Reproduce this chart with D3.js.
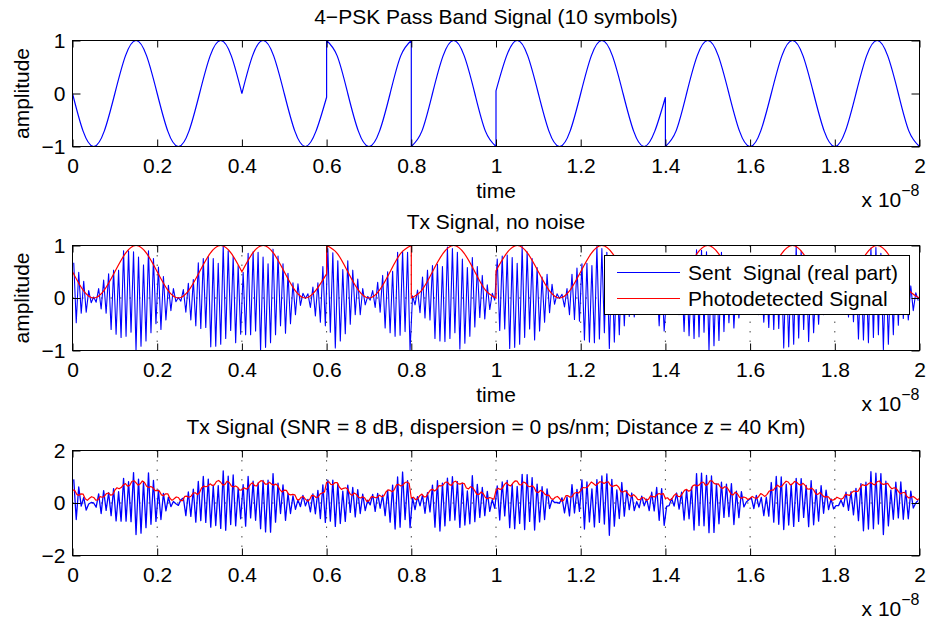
<!DOCTYPE html>
<html><head><meta charset="utf-8">
<script src="https://cdn.jsdelivr.net/npm/d3@7"></script>
<style>
body{margin:0;background:#fff}
svg{display:block}
text{font-family:"Liberation Sans",Arial,Helvetica,sans-serif;fill:#000}
</style>
</head><body>
<svg id="c" width="929" height="628"></svg>
<script>
// ---------------- data ----------------
const timeTicks = [0, 0.2, 0.4, 0.6, 0.8, 1, 1.2, 1.4, 1.6, 1.8, 2];
const timeTickLabels = ["0", "0.2", "0.4", "0.6", "0.8", "1", "1.2", "1.4", "1.6", "1.8", "2"];
const symbolDuration = 0.2;        // x 1e-8 s
const samplesPerSymbol = 8;
const phaseChangeTimes = [0.4, 0.6, 0.8, 1.0, 1.4];

// 4-PSK pass band signal, 9 samples per symbol (panel 1)
const passBandSignal = [
  [0, -0.71, -1, -0.71, 0, 0.71, 1, 0.71, 0],
  [0, -0.71, -1, -0.71, 0, 0.71, 1, 0.71, 0],
  [0, 0.71, 1, 0.71, 0, -0.71, -1, -0.71, -0.07],
  [1, 0.71, 0, -0.71, -1, -0.71, 0, 0.71, 1],
  [-1, -0.71, 0, 0.71, 1, 0.71, 0, -0.71, -1],
  [0.05, 0.71, 1, 0.71, 0, -0.71, -1, -0.71, 0],
  [0, 0.71, 1, 0.71, 0, -0.71, -1, -0.71, -0.07],
  [-1, -0.71, 0, 0.71, 1, 0.71, 0, -0.71, -1],
  [-1, -0.71, 0, 0.71, 1, 0.71, 0, -0.71, -1],
  [-1, -0.71, 0, 0.71, 1, 0.71, 0, -0.71, -1]
];

// photodetected signal (no noise), panel 2
const photodetectedSignal = [
  [0.5, 0.15, 0, 0.15, 0.5, 0.85, 1, 0.85, 0.5],
  [0.5, 0.15, 0, 0.15, 0.5, 0.85, 1, 0.85, 0.5],
  [0.5, 0.85, 1, 0.85, 0.5, 0.15, 0, 0.15, 0.46],
  [1, 0.85, 0.5, 0.15, 0, 0.15, 0.5, 0.85, 1],
  [0, 0.15, 0.5, 0.85, 1, 0.85, 0.5, 0.15, 0],
  [0.52, 0.85, 1, 0.85, 0.5, 0.15, 0, 0.15, 0.5],
  [0.5, 0.85, 1, 0.85, 0.5, 0.15, 0, 0.15, 0.46],
  [0, 0.15, 0.5, 0.85, 1, 0.85, 0.5, 0.15, 0],
  [0, 0.15, 0.5, 0.85, 1, 0.85, 0.5, 0.15, 0],
  [0, 0.15, 0.5, 0.85, 1, 0.85, 0.5, 0.15, 0]
];

// sent signal (real part), carrier extremes, 34 per symbol (panel 2)
const sentSignal = [
  [0.67,-0.47,0.49,-0.29,0.32,-0.27,0.14,-0.09,0.02,-0.08,0.18,-0.21,0.34,-0.29,0.46,-0.60,0.53,-0.69,0.53,-0.75,0.90,-0.73,0.90,-0.65,0.88,-1.0,0.78,-0.92,0.63,-0.82,0.90,-0.66,0.75,-0.49],
  [0.59,-0.60,0.41,-0.42,0.24,-0.24,0.18,-0.07,0.01,-0.06,0.16,-0.27,0.28,-0.42,0.35,-0.53,0.67,-0.58,0.75,-0.56,0.79,-0.93,0.75,-0.92,0.66,-0.88,1.0,-0.77,0.90,-0.62,0.79,-0.85,0.62,-0.69],
  [0.49,-0.70,0.85,-0.70,0.88,-0.63,0.87,-1.0,0.78,-0.94,0.65,-0.85,0.93,-0.70,0.80,-0.53,0.65,-0.67,0.47,-0.49,0.29,-0.32,0.27,-0.14,0.09,-0.01,0.08,-0.18,0.21,-0.34,0.29,-0.46,0.60,-0.53],
  [0.94,-0.65,0.86,-0.95,0.71,-0.82,0.54,-0.68,0.71,-0.50,0.53,-0.32,0.36,-0.32,0.18,-0.13,0.03,-0.04,0.14,-0.18,0.30,-0.27,0.43,-0.57,0.50,-0.66,0.51,-0.73,0.87,-0.71,0.89,-0.64,0.87,-1.0],
  [0.04,-0.13,0.15,-0.28,0.40,-0.38,0.53,-0.42,0.62,-0.77,0.64,-0.82,0.60,-0.83,0.97,-0.77,0.94,-0.66,0.87,-0.97,0.74,-0.86,0.58,-0.73,0.77,-0.55,0.60,-0.37,0.43,-0.40,0.25,-0.22,0.09,-0.04],
  [0.74,-0.62,0.80,-0.59,0.82,-0.96,0.77,-0.94,0.66,-0.88,0.98,-0.75,0.88,-0.59,0.75,-0.80,0.58,-0.63,0.40,-0.46,0.45,-0.28,0.26,-0.12,0.08,-0.01,0.07,-0.17,0.18,-0.32,0.45,-0.41,0.57,-0.44],
  [0.65,-0.80,0.66,-0.84,0.62,-0.85,0.98,-0.78,0.94,-0.66,0.87,-0.96,0.73,-0.84,0.56,-0.70,0.74,-0.53,0.57,-0.35,0.39,-0.36,0.21,-0.17,0.06,-0.01,0.09,-0.14,0.26,-0.24,0.39,-0.53,0.47,-0.63],
  [0.03,-0.12,0.23,-0.25,0.38,-0.32,0.50,-0.64,0.55,-0.72,0.54,-0.77,0.92,-0.74,0.91,-0.65,0.88,-1.0,0.77,-0.91,0.63,-0.81,0.87,-0.64,0.72,-0.47,0.56,-0.57,0.38,-0.38,0.21,-0.20,0.14,-0.04],
  [0.04,-0.09,0.20,-0.32,0.32,-0.46,0.37,-0.56,0.71,-0.60,0.78,-0.58,0.81,-0.95,0.76,-0.93,0.66,-0.88,0.99,-0.76,0.89,-0.60,0.77,-0.83,0.60,-0.66,0.42,-0.50,0.49,-0.32,0.30,-0.15,0.12,-0.05],
  [0.05,-0.12,0.17,-0.27,0.41,-0.36,0.52,-0.45,0.60,-0.78,0.66,-0.80,0.62,-0.85,0.95,-0.75,0.96,-0.70,0.85,-0.98,0.72,-0.88,0.60,-0.70,0.78,-0.52,0.62,-0.39,0.41,-0.42,0.23,-0.24,0.10,-0.05]
];

// received signal with noise (SNR = 8 dB), 34 per symbol (panel 3, blue)
const noisySentSignal = [
  [0.90,-0.63,0.61,-0.12,0.21,-0.27,-0.04,0.02,0.0,-0.16,0.35,-0.40,0.47,-0.28,0.39,-0.48,0.55,-0.68,0.43,-0.69,0.94,-0.69,0.81,-0.71,1.16,-1.20,0.91,-1.15,0.81,-0.94,1.15,-0.81,0.86,-0.70],
  [0.49,-0.63,0.37,-0.30,0.22,-0.14,0.06,-0.03,-0.09,0.12,0.19,-0.48,0.42,-0.51,0.53,-0.73,0.82,-0.67,1.01,-0.74,0.91,-0.92,0.66,-0.86,0.66,-0.97,1.22,-1.04,1.02,-0.82,1.07,-0.87,0.57,-0.60],
  [0.70,-0.88,1.01,-0.57,0.83,-0.66,0.77,-0.98,0.86,-1.10,0.87,-1.11,1.12,-0.73,0.76,-0.40,0.69,-0.66,0.37,-0.40,0.27,-0.24,0.12,-0.14,0.29,-0.11,0.14,-0.34,0.35,-0.41,0.48,-0.59,0.69,-0.74],
  [0.87,-0.69,0.87,-0.89,0.74,-0.78,0.45,-0.70,0.68,-0.36,0.59,-0.53,0.51,-0.40,0.34,-0.29,0.11,-0.07,0.33,-0.32,0.37,-0.20,0.30,-0.48,0.48,-0.73,0.68,-0.99,0.99,-0.92,1.18,-0.63,0.85,-0.94],
  [0.20,-0.25,0.24,-0.11,0.30,-0.39,0.39,-0.34,0.68,-0.92,0.85,-1.07,0.76,-0.87,0.95,-0.67,1.00,-0.65,0.81,-0.93,0.76,-0.84,0.46,-0.79,1.04,-0.71,0.71,-0.55,0.59,-0.48,0.44,-0.32,0.13,-0.20],
  [0.65,-0.65,0.80,-0.49,0.86,-0.94,0.71,-0.98,0.63,-0.78,1.09,-1.01,1.08,-0.70,0.97,-1.03,0.72,-0.72,0.62,-0.63,0.54,-0.21,0.12,0.02,0.02,-0.01,0.20,-0.38,0.23,-0.49,0.70,-0.38,0.52,-0.32],
  [0.88,-0.99,0.80,-0.72,0.54,-0.91,0.89,-0.74,1.03,-0.80,1.11,-1.23,0.90,-0.88,0.50,-0.59,0.78,-0.50,0.48,-0.25,0.38,-0.29,0.05,-0.18,0.26,-0.11,0.15,-0.29,0.41,-0.30,0.59,-0.66,0.55,-0.85],
  [-0.13,-0.10,0.17,-0.12,0.38,-0.23,0.41,-0.65,0.51,-0.60,0.60,-1.03,1.12,-0.86,1.14,-0.87,1.05,-1.13,1.03,-1.12,0.73,-0.79,0.79,-0.55,0.72,-0.52,0.74,-0.82,0.45,-0.56,0.43,-0.15,0.04,0.12],
  [0.20,-0.21,0.29,-0.15,0.21,-0.48,0.22,-0.50,0.78,-0.73,1.01,-0.81,0.99,-1.01,0.72,-0.84,0.70,-0.89,0.94,-0.70,0.93,-0.55,0.67,-0.90,0.85,-0.83,0.51,-0.69,0.66,-0.39,0.49,-0.25,0.16,-0.22],
  [-0.10,-0.10,0.11,-0.14,0.41,-0.28,0.43,-0.45,0.56,-0.67,0.74,-1.06,0.79,-0.99,1.19,-0.98,1.14,-0.80,1.12,-1.20,0.83,-0.87,0.49,-0.62,0.79,-0.57,0.80,-0.62,0.48,-0.60,0.45,-0.19,0.00,0.10]
];

// noisy photodetected signal, 40 samples per symbol + final value (panel 3, red)
const noisyPhotodetected = [
  [0.50,0.48,0.33,0.29,0.35,0.34,0.16,0.10,0.18,0.24,0.21,0.11,0.12,0.24,0.22,0.25,0.36,0.38,0.30,0.32,0.49,0.58,0.54,0.59,0.69,0.74,0.64,0.67,0.82,0.85,0.77,0.68,0.73,0.84,0.78,0.64,0.59,0.63,0.58,0.47],
  [0.48,0.46,0.31,0.28,0.35,0.35,0.18,0.10,0.16,0.23,0.21,0.09,0.09,0.25,0.26,0.22,0.26,0.38,0.39,0.32,0.40,0.58,0.64,0.62,0.65,0.73,0.67,0.69,0.82,0.86,0.79,0.68,0.71,0.83,0.78,0.65,0.61,0.65,0.60,0.49],
  [0.50,0.58,0.53,0.57,0.71,0.77,0.66,0.65,0.78,0.85,0.83,0.72,0.72,0.79,0.72,0.68,0.72,0.66,0.50,0.42,0.49,0.48,0.34,0.31,0.33,0.31,0.14,0.12,0.22,0.24,0.15,0.07,0.13,0.29,0.28,0.21,0.23,0.35,0.38,0.42],
  [0.79,0.81,0.71,0.70,0.78,0.78,0.61,0.52,0.56,0.58,0.52,0.35,0.29,0.38,0.33,0.22,0.19,0.24,0.19,0.06,0.09,0.23,0.24,0.20,0.22,0.30,0.24,0.27,0.42,0.50,0.48,0.43,0.51,0.69,0.71,0.65,0.68,0.78,0.80,0.74],
  [0.19,0.22,0.13,0.16,0.28,0.34,0.23,0.24,0.38,0.49,0.52,0.46,0.52,0.66,0.65,0.68,0.79,0.80,0.70,0.67,0.80,0.83,0.74,0.72,0.76,0.74,0.57,0.54,0.62,0.59,0.46,0.33,0.33,0.42,0.35,0.21,0.16,0.21,0.18,0.14],
  [0.48,0.56,0.51,0.56,0.71,0.78,0.68,0.65,0.76,0.84,0.83,0.70,0.69,0.80,0.76,0.65,0.62,0.66,0.59,0.42,0.40,0.48,0.44,0.34,0.29,0.30,0.17,0.14,0.22,0.25,0.17,0.07,0.11,0.28,0.28,0.22,0.25,0.37,0.40,0.38],
  [0.47,0.59,0.58,0.59,0.69,0.80,0.74,0.67,0.73,0.81,0.80,0.74,0.79,0.81,0.68,0.63,0.66,0.68,0.60,0.43,0.42,0.47,0.39,0.29,0.25,0.32,0.24,0.13,0.13,0.21,0.19,0.10,0.14,0.27,0.24,0.23,0.31,0.36,0.33,0.36],
  [0.17,0.20,0.11,0.15,0.28,0.35,0.25,0.24,0.36,0.48,0.52,0.45,0.49,0.66,0.69,0.65,0.69,0.79,0.79,0.67,0.71,0.84,0.84,0.75,0.72,0.73,0.60,0.55,0.62,0.60,0.48,0.33,0.31,0.41,0.35,0.22,0.18,0.23,0.20,0.13],
  [0.18,0.25,0.20,0.17,0.24,0.36,0.31,0.25,0.33,0.45,0.49,0.49,0.60,0.68,0.61,0.64,0.75,0.83,0.80,0.69,0.73,0.82,0.79,0.71,0.68,0.75,0.67,0.54,0.53,0.57,0.50,0.35,0.33,0.40,0.31,0.23,0.24,0.23,0.13,0.11],
  [0.14,0.22,0.18,0.14,0.19,0.33,0.31,0.29,0.40,0.46,0.43,0.45,0.59,0.70,0.67,0.67,0.74,0.78,0.72,0.69,0.81,0.84,0.74,0.71,0.73,0.75,0.62,0.54,0.58,0.56,0.44,0.35,0.39,0.41,0.26,0.19,0.22,0.25,0.19,0.12],
  [0.17]
];

const panelTitles = [
  "4\u2212PSK Pass Band Signal (10 symbols)",
  "Tx Signal, no noise",
  "Tx Signal (SNR = 8 dB, dispersion = 0 ps/nm; Distance z = 40 Km)"
];
const legendLabels = ["Sent  Signal (real part)", "Photodetected Signal"];

// ---------------- layout ----------------
const svg = d3.select("#c");
svg.append("rect").attr("width", 929).attr("height", 628).attr("fill", "#fff");
const FS = 21;
const left = 72.5, right = 919.5;
const x = d3.scaleLinear().domain([0, 2]).range([left, right]);

const panels = [
  {top: 40.5, bottom: 146.5, yDomain: [-1, 1], yTicks: [-1, 0, 1], yLabels: ["\u22121", "0", "1"], ylabel: "amplitude", xlabel: "time", grid: false},
  {top: 245.5, bottom: 350.5, yDomain: [-1, 1], yTicks: [-1, 0, 1], yLabels: ["\u22121", "0", "1"], ylabel: "amplitude", xlabel: "time", grid: true},
  {top: 450.5, bottom: 555.5, yDomain: [-2, 2], yTicks: [-2, 0, 2], yLabels: ["\u22122", "0", "2"], ylabel: null, xlabel: null, grid: true}
];

panels.forEach((p, i) => {
  p.y = d3.scaleLinear().domain(p.yDomain).range([p.bottom, p.top]);
  const g = svg.append("g");
  svg.append("clipPath").attr("id", "clip" + i)
    .append("rect").attr("x", left).attr("y", p.top).attr("width", right - left).attr("height", p.bottom - p.top);
  if (p.grid) {
    const gg = g.append("g").attr("stroke", "#333").attr("stroke-width", 0.9).attr("stroke-dasharray", "1.5,8");
    timeTicks.slice(1, -1).forEach(t => {
      gg.append("line").attr("x1", x(t)).attr("x2", x(t)).attr("y1", p.top).attr("y2", p.bottom);
    });
    p.yTicks.slice(1, -1).forEach(v => {
      gg.append("line").attr("x1", left).attr("x2", right).attr("y1", p.y(v)).attr("y2", p.y(v));
    });
  }
  p.data = g.append("g").attr("clip-path", `url(#clip${i})`);
});

function drawFrame(p, i) {
  const g = svg.append("g");
  const ax = d3.axisBottom(x).tickValues(timeTicks).tickFormat((d, k) => timeTickLabels[k])
    .tickSizeInner(-7).tickSizeOuter(0).tickPadding(11.6);
  const gb = g.append("g").attr("transform", `translate(0,${p.bottom})`).call(ax);
  const gt = g.append("g").attr("transform", `translate(0,${p.top})`)
    .call(d3.axisTop(x).tickValues(timeTicks).tickFormat("").tickSizeInner(-7).tickSizeOuter(0));
  const ay = d3.axisLeft(p.y).tickValues(p.yTicks).tickFormat((d, k) => p.yLabels[k])
    .tickSizeInner(-8).tickSizeOuter(0).tickPadding(7);
  const gl = g.append("g").attr("transform", `translate(${left},0)`).call(ay);
  const gr = g.append("g").attr("transform", `translate(${right},0)`)
    .call(d3.axisRight(p.y).tickValues(p.yTicks).tickFormat("").tickSizeInner(-8).tickSizeOuter(0));
  [gb, gt, gl, gr].forEach(a => {
    a.select(".domain").remove();
    a.selectAll("line").attr("stroke", "#000").attr("stroke-width", 1);
    a.selectAll("text").attr("font-size", FS).attr("font-family", "Liberation Sans, Arial, sans-serif").attr("fill", "#000");
  });
  g.append("rect").attr("x", left).attr("y", p.top).attr("width", right - left).attr("height", p.bottom - p.top)
    .attr("fill", "none").attr("stroke", "#000").attr("stroke-width", 1);
  svg.append("text").attr("x", (left + right) / 2).attr("y", p.top - 17).attr("text-anchor", "middle")
    .attr("font-size", FS).text(panelTitles[i]);
  if (p.xlabel) {
    svg.append("text").attr("x", (left + right) / 2).attr("y", p.bottom + 51.5).attr("text-anchor", "middle")
      .attr("font-size", FS).text(p.xlabel);
  }
  if (p.ylabel) {
    svg.append("text").attr("transform", `translate(28.5,${(p.top + p.bottom) / 2}) rotate(-90)`)
      .attr("text-anchor", "middle").attr("font-size", FS).text(p.ylabel);
  }
  const m = svg.append("text").attr("x", right).attr("y", p.bottom + 60).attr("text-anchor", "end").attr("font-size", FS);
  m.append("tspan").text("x 10");
  m.append("tspan").attr("dy", -11).attr("font-size", 16).text("\u22128");
}

const dt = symbolDuration / samplesPerSymbol;
function symbolPath(yScale, rows) {
  const runs = [];
  let cur = null;
  rows.forEach((row, s) => {
    const t0 = s * symbolDuration;
    const isBreak = s === 0 || phaseChangeTimes.some(b => Math.abs(b - t0) < 1e-9);
    if (isBreak) { cur = []; runs.push(cur); }
    row.forEach((v, k) => { if (isBreak || k > 0) cur.push([t0 + k * dt, v]); });
  });
  const line = d3.line().x(d => x(d[0])).y(d => yScale(d[1])).curve(d3.curveNatural);
  return runs.map((r, k) => { const s = line(r); return k ? "L" + s.slice(1) : s; }).join("");
}

// rows of evenly spaced samples -> [t, v] points
function rowsToPoints(rows, perSymbol, centred) {
  const pts = [];
  let idx = 0;
  rows.forEach(row => row.forEach(v => {
    pts.push([(idx + (centred ? 0.5 : 0)) * symbolDuration / perSymbol, v]);
    idx++;
  }));
  return pts;
}

function linePath(yScale, pts) {
  return d3.line().x(d => x(d[0])).y(d => yScale(d[1]))(pts);
}

// panel 1
panels[0].data.append("path").attr("d", symbolPath(panels[0].y, passBandSignal))
  .attr("fill", "none").attr("stroke", "#0000ff").attr("stroke-width", 1.2);

// panel 2
panels[1].data.append("path").attr("d", linePath(panels[1].y, rowsToPoints(sentSignal, 34, true)))
  .attr("fill", "none").attr("stroke", "#0000ff").attr("stroke-width", 1.1).attr("stroke-linejoin", "round");
panels[1].data.append("path").attr("d", symbolPath(panels[1].y, photodetectedSignal))
  .attr("fill", "none").attr("stroke", "#ff0000").attr("stroke-width", 1.2);

// panel 3
panels[2].data.append("path").attr("d", linePath(panels[2].y, rowsToPoints(noisySentSignal, 34, true)))
  .attr("fill", "none").attr("stroke", "#0000ff").attr("stroke-width", 1.3).attr("stroke-linejoin", "round");
panels[2].data.append("path").attr("d", linePath(panels[2].y, rowsToPoints(noisyPhotodetected, 40, false)))
  .attr("fill", "none").attr("stroke", "#ff0000").attr("stroke-width", 1.2).attr("stroke-linejoin", "round");

panels.forEach(drawFrame);

// legend
const lg = svg.append("g");
lg.append("rect").attr("x", 604.5).attr("y", 255.5).attr("width", 305).attr("height", 59)
  .attr("fill", "#fff").attr("stroke", "#000").attr("stroke-width", 1);
[["#0000ff", 272.5], ["#ff0000", 298.5]].forEach(([c, yy], k) => {
  lg.append("line").attr("x1", 617).attr("x2", 680).attr("y1", yy).attr("y2", yy).attr("stroke", c).attr("stroke-width", 1.2);
  lg.append("text").attr("x", 688).attr("y", yy + 7.5).attr("font-size", FS)
    .attr("xml:space", "preserve").style("white-space", "pre").text(legendLabels[k]);
});
</script>
</body></html>
